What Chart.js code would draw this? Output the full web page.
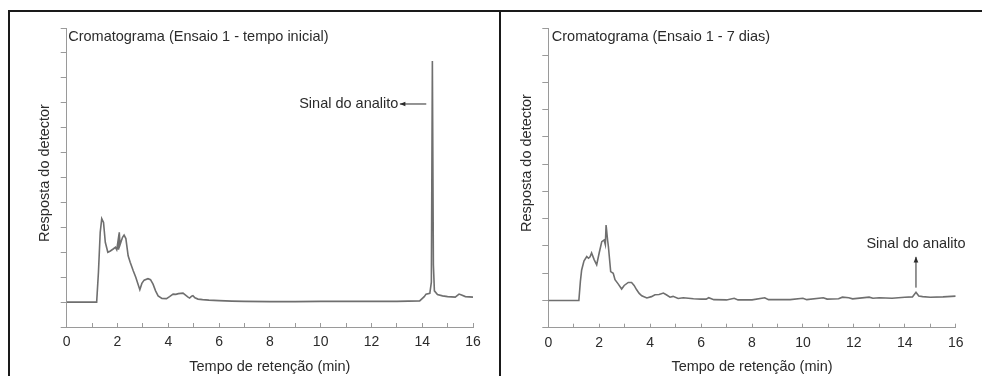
<!DOCTYPE html>
<html>
<head>
<meta charset="utf-8">
<script src="https://cdn.jsdelivr.net/npm/chart.js@4.4.1/dist/chart.umd.min.js"></script>
<style>
  body { margin: 0; background: #fff; width: 982px; height: 376px; overflow: hidden; position: relative; }
  canvas { position: absolute; }
  .ln { position: absolute; background: #1a1a1a; }
</style>
</head>
<body>
<div class="ln" style="left:8px; top:10px; width:974px; height:2px;"></div>
<div class="ln" style="left:8px; top:10px; width:2px; height:366px;"></div>
<div class="ln" style="left:499px; top:10px; width:2px; height:366px;"></div>
<canvas id="chartInicial" width="488" height="364" style="left:10px; top:12px;"></canvas>
<canvas id="chart7dias" width="480" height="364" style="left:502px; top:12px;"></canvas>
<script>
// tempo de retenção (min) e resposta do detector - ensaio 1, tempo inicial
const tempoInicial = [0, 1.18, 1.25, 1.32, 1.38, 1.45, 1.52, 1.62, 1.72, 1.83, 1.92, 1.97, 2.02, 2.04, 2.07, 2.1, 2.15, 2.2, 2.26, 2.33, 2.42, 2.5, 2.62, 2.72, 2.8, 2.88, 2.96, 3.05, 3.2, 3.3, 3.4, 3.5, 3.6, 3.75, 3.93, 4.05, 4.19, 4.3, 4.4, 4.58, 4.68, 4.78, 4.84, 4.92, 4.97, 5.05, 5.17, 5.35, 5.6, 6.0, 6.5, 7, 8, 9, 10, 11, 12, 13, 13.9, 14.08, 14.15, 14.3, 14.36, 14.4, 14.44, 14.48, 14.6, 14.8, 15.0, 15.3, 15.45, 15.55, 15.7, 16.0];
const respostaInicial = [0, 0, 1.2, 2.8, 3.35, 3.2, 2.4, 2.0, 2.05, 2.13, 2.2, 2.1, 2.45, 2.1, 2.8, 2.3, 2.45, 2.6, 2.69, 2.55, 1.86, 1.6, 1.26, 1.0, 0.75, 0.5, 0.75, 0.88, 0.94, 0.9, 0.72, 0.45, 0.25, 0.15, 0.14, 0.22, 0.32, 0.31, 0.34, 0.36, 0.28, 0.2, 0.16, 0.24, 0.26, 0.17, 0.12, 0.1, 0.08, 0.06, 0.04, 0.03, 0.02, 0.02, 0.03, 0.03, 0.03, 0.03, 0.05, 0.22, 0.32, 0.35, 0.8, 9.68, 1.5, 0.45, 0.3, 0.25, 0.22, 0.2, 0.32, 0.28, 0.22, 0.2];

// ensaio 1, 7 dias
const tempo7dias = [0, 1.2, 1.26, 1.31, 1.4, 1.51, 1.58, 1.64, 1.7, 1.8, 1.9, 2.0, 2.1, 2.19, 2.24, 2.27, 2.3, 2.33, 2.36, 2.45, 2.55, 2.62, 2.75, 2.88, 2.98, 3.14, 3.27, 3.37, 3.47, 3.57, 3.67, 3.87, 4.05, 4.19, 4.35, 4.52, 4.65, 4.78, 4.9, 5.1, 5.3, 5.5, 5.7, 6.0, 6.2, 6.3, 6.5, 7.0, 7.3, 7.45, 8.0, 8.5, 8.65, 9.5, 10.0, 10.15, 10.8, 10.95, 11.4, 11.55, 11.8, 11.95, 12.6, 12.75, 13.0, 13.5, 14.0, 14.3, 14.44, 14.55, 14.7, 15.0, 15.5, 16.0];
const resposta7dias = [0, 0, 0.7, 1.12, 1.45, 1.61, 1.55, 1.6, 1.74, 1.5, 1.31, 1.75, 2.16, 2.22, 2.05, 2.77, 2.77, 2.2, 1.98, 1.06, 1.0, 0.76, 0.6, 0.42, 0.55, 0.66, 0.66, 0.55, 0.39, 0.26, 0.17, 0.09, 0.14, 0.21, 0.22, 0.27, 0.2, 0.12, 0.15, 0.07, 0.1, 0.08, 0.06, 0.05, 0.05, 0.1, 0.03, 0.02, 0.08, 0.02, 0.02, 0.1, 0.03, 0.03, 0.08, 0.03, 0.1, 0.05, 0.06, 0.12, 0.1, 0.06, 0.12, 0.08, 0.1, 0.08, 0.12, 0.13, 0.3, 0.16, 0.14, 0.12, 0.13, 0.16];

const rotulosX = [0, 2, 4, 6, 8, 10, 12, 14, 16];

const fonte = '"Liberation Sans", Arial, sans-serif';
const corTexto = '#2b2b2b';
const corEixo = '#9a9a9a';

function pontos(xs, ys) {
    return xs.map((x, i) => ({x: x, y: ys[i]}));
}

// texto e setas desenhados por cima do gráfico
const anotacoes = {
    id: 'anotacoes',
    afterDatasetsDraw(chart, args, opts) {
        const ctx = chart.ctx;
        const xs = chart.scales.x;
        const ys = chart.scales.y;
        const area = chart.chartArea;
        ctx.save();
        ctx.fillStyle = corTexto;
        ctx.strokeStyle = corTexto;
        ctx.font = '14.5px ' + fonte;
        // título dentro do gráfico
        ctx.textAlign = 'left';
        ctx.textBaseline = 'middle';
        ctx.fillText(opts.titulo, area.left + opts.tituloDx, area.top + 9);
        // título do eixo y
        ctx.save();
        ctx.translate(area.left - 21.5, opts.eixoYcentro);
        ctx.rotate(-Math.PI / 2);
        ctx.textAlign = 'center';
        ctx.fillText('Resposta do detector', 0, 0);
        ctx.restore();
        // sinal do analito
        const s = opts.sinal;
        ctx.textAlign = s.alinhar;
        ctx.fillText('Sinal do analito', xs.getPixelForValue(s.tx), ys.getPixelForValue(s.ty));
        const x1 = xs.getPixelForValue(s.de[0]), y1 = ys.getPixelForValue(s.de[1]);
        const x2 = xs.getPixelForValue(s.ate[0]), y2 = ys.getPixelForValue(s.ate[1]);
        ctx.lineWidth = 1;
        ctx.beginPath();
        ctx.moveTo(x1, y1);
        ctx.lineTo(x2, y2);
        ctx.stroke();
        const ang = Math.atan2(y2 - y1, x2 - x1);
        ctx.beginPath();
        ctx.moveTo(x2, y2);
        ctx.lineTo(x2 - 6 * Math.cos(ang - 0.4), y2 - 6 * Math.sin(ang - 0.4));
        ctx.lineTo(x2 - 6 * Math.cos(ang + 0.4), y2 - 6 * Math.sin(ang + 0.4));
        ctx.closePath();
        ctx.fill();
        ctx.restore();
    }
};

function makeChart(id, xs, ys, yMax, cfg) {
    new Chart(document.getElementById(id), {
        type: 'line',
        data: {
            datasets: [{
                data: pontos(xs, ys),
                borderColor: '#6f6f6f',
                borderWidth: 1.6,
                pointRadius: 0,
                tension: 0
            }]
        },
        options: {
            responsive: false,
            animation: false,
            events: [],
            layout: {
                autoPadding: false,
                padding: {top: 16, right: cfg.padRight, left: 0, bottom: 0}
            },
            scales: {
                x: {
                    type: 'linear',
                    min: 0,
                    max: 16,
                    afterFit(scale) {
                        scale.height = cfg.altX;
                        scale.paddingLeft = 0;
                        scale.paddingRight = 0;
                    },
                    ticks: {
                        stepSize: 1,
                        autoSkip: false,
                        maxRotation: 0,
                        padding: 11,
                        color: corTexto,
                        font: {family: fonte, size: 14},
                        callback: (v) => rotulosX.includes(v) ? String(v) : ''
                    },
                    grid: {drawOnChartArea: false, tickLength: -4, color: corEixo},
                    border: {color: corEixo, width: 1},
                    title: {
                        display: true,
                        text: 'Tempo de retenção (min)',
                        color: corTexto,
                        font: {family: fonte, size: 14.5},
                        padding: {top: 0, bottom: 0}
                    }
                },
                y: {
                    type: 'linear',
                    min: -1,
                    max: yMax,
                    afterFit(scale) {
                        scale.width = cfg.largY;
                        scale.paddingTop = 0;
                        scale.paddingBottom = 0;
                    },
                    ticks: {stepSize: 1, display: false},
                    grid: {drawOnChartArea: false, tickLength: 6, color: corEixo},
                    border: {color: corEixo, width: 1}
                }
            },
            plugins: {
                legend: {display: false},
                tooltip: {enabled: false},
                anotacoes: cfg.anotacoes
            }
        },
        plugins: [anotacoes]
    });
}

makeChart('chartInicial', tempoInicial, respostaInicial, 11, {
    padRight: 25, altX: 49, largY: 56.7,
    anotacoes: {
        titulo: 'Cromatograma (Ensaio 1 - tempo inicial)', tituloDx: 1.5, eixoYcentro: 161,
        sinal: {tx: 13.06, ty: 7.95, alinhar: 'right', de: [14.16, 7.95], ate: [13.12, 7.95]}
    }
});

makeChart('chart7dias', tempo7dias, resposta7dias, 10, {
    padRight: 26.3, altX: 48.3, largY: 46.3,
    anotacoes: {
        titulo: 'Cromatograma (Ensaio 1 - 7 dias)', tituloDx: 3.5, eixoYcentro: 151,
        sinal: {tx: 14.44, ty: 2.08, alinhar: 'center', de: [14.44, 0.47], ate: [14.44, 1.6]}
    }
});
</script>
</body>
</html>
